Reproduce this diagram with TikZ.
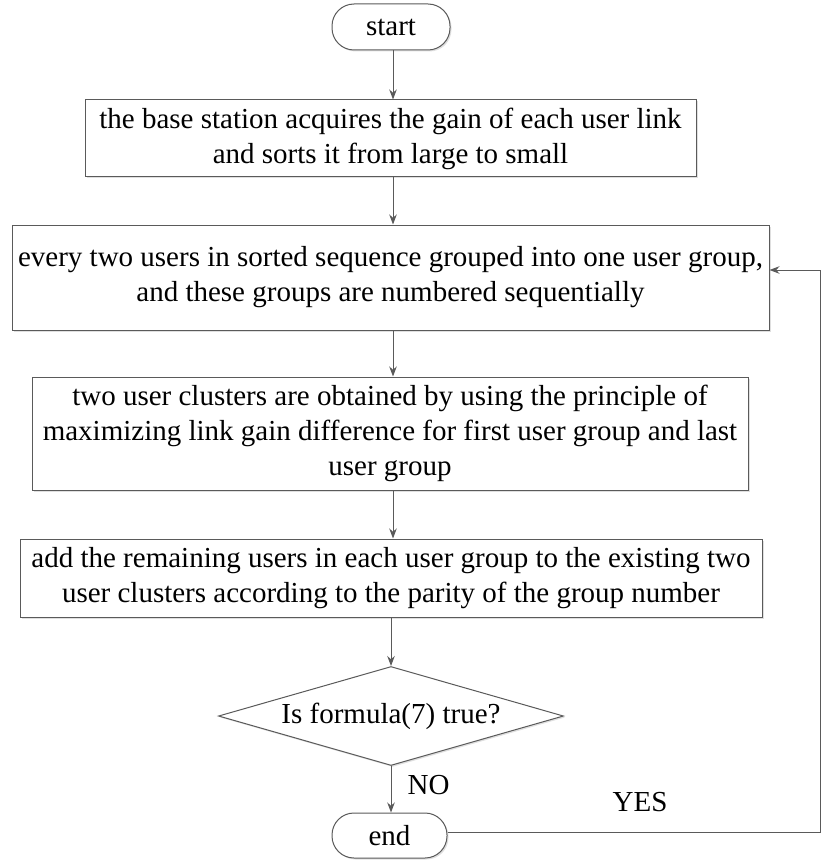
\documentclass[tikz,border=0pt]{standalone}
\usepackage{fontspec}
\setmainfont{Liberation Serif}
\usetikzlibrary{shapes.geometric,shadows,arrows.meta}
\definecolor{linegray}{HTML}{5A5A5A}
\tikzset{
  shad/.style={drop shadow={opacity=0.25,shadow xshift=1.5pt,shadow yshift=-1.5pt}},
  procbox/.style={draw=linegray,line width=1pt,fill=white,shad,inner sep=0pt,align=center,font=\fontsize{29}{35}\selectfont},
  termbox/.style={procbox,rounded corners=22pt},
  decbox/.style={procbox,diamond},
  arr/.style={draw=linegray,line width=1pt,-{Stealth[length=10pt,width=7.5pt]}},
  lbl/.style={font=\fontsize{29}{33}\selectfont,inner sep=0pt}
}
\begin{document}
\begin{tikzpicture}[x=1pt,y=-1pt]
\useasboundingbox (0,0) rectangle (822,861);
\coordinate (ax) at (393,0);
\node[termbox,minimum width=118pt,minimum height=46pt] (start) at (391,27) {start};
\node[procbox,minimum width=611pt,minimum height=77pt] (b1) at (390.5,138.5)
  {the base station acquires the gain of each user link\\and sorts it from large to small};
\node[procbox,minimum width=757pt,minimum height=105pt] (b2) at (390.5,277.5)
  {every two users in sorted sequence grouped into one user group,\\and these groups are numbered sequentially};
\node[procbox,minimum width=716pt,minimum height=113pt] (b3) at (390,433.5)
  {two user clusters are obtained by using the principle of\\maximizing link gain difference for first user group and last\\user group};
\node[procbox,minimum width=742pt,minimum height=78pt] (b4) at (391,578)
  {add the remaining users in each user group to the existing two\\user clusters according to the parity of the group number};
\node[decbox,minimum width=345pt,minimum height=99pt,
  label={[lbl]center:Is formula(7) true?}] (dec) at (391,716) {};
\node[termbox,minimum width=115pt,minimum height=45pt] (end) at (389.5,835.5) {end};
\coordinate (c1) at (820.5,832);
\coordinate (c2) at (820.5,270);
\node[lbl] (no) at (428.5,785) {NO};
\node[lbl] (yes) at (640,802) {YES};
\draw[arr] (start.south -| ax) -- (b1.north -| ax);
\draw[arr] (b1.south -| ax) -- (b2.north -| ax);
\draw[arr] (b2.south -| ax) -- (b3.north -| ax);
\draw[arr] (b3.south -| ax) -- (b4.north -| ax);
\draw[arr] (b4.south -| dec.north) -- (dec.north);
\draw[arr] (dec.south) -- (end.north -| dec.south);
\draw[arr] (end.east |- c1) -- (c1) -- (c2) -- (c2 -| b2.east);
\end{tikzpicture}
\end{document}
